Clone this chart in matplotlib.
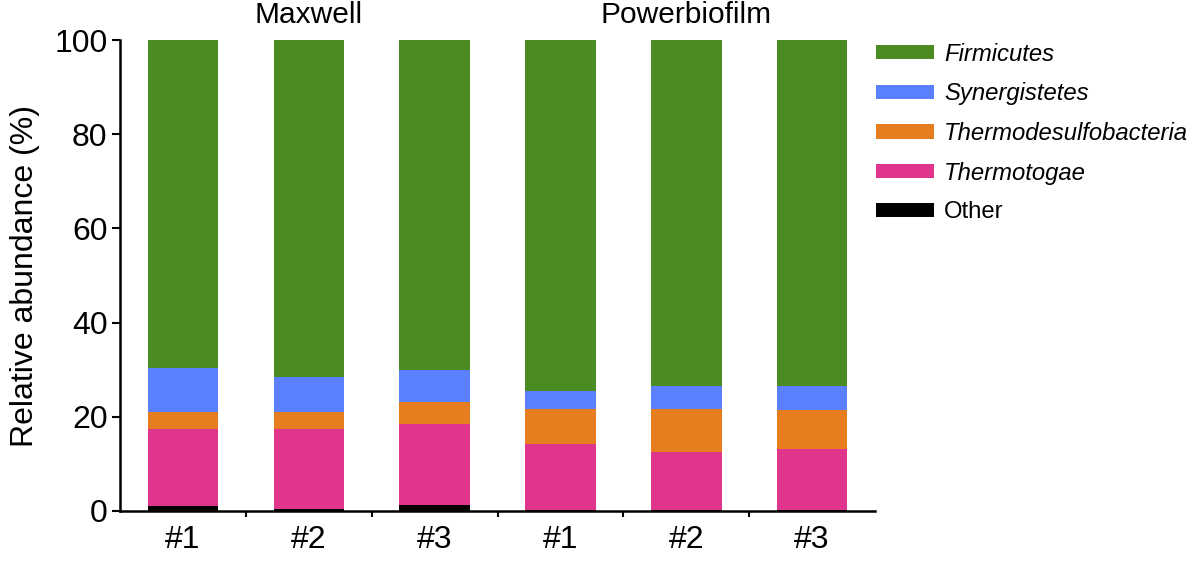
import matplotlib
matplotlib.use("Agg")
import matplotlib.pyplot as plt
import numpy as np
from matplotlib.patches import Patch

plt.rcParams['font.family'] = ['Liberation Sans', 'DejaVu Sans']

samples = ["#1", "#2", "#3", "#1", "#2", "#3"]
groups = ["Maxwell", "Powerbiofilm"]
other = [1.0, 0.5, 1.3, 0.3, 0.3, 0.3]
thermotogae = [16.4, 16.9, 17.2, 13.9, 12.2, 12.9]
thermodesulfobacteria = [3.6, 3.6, 4.6, 7.5, 9.2, 8.2]
synergistetes = [9.4, 7.5, 6.9, 3.8, 4.8, 5.1]
firmicutes = [69.6, 71.5, 70.0, 74.5, 73.5, 73.5]

series = [
    ("Other", other, "#000000", False),
    ("Thermotogae", thermotogae, "#e0358c", True),
    ("Thermodesulfobacteria", thermodesulfobacteria, "#e67d1f", True),
    ("Synergistetes", synergistetes, "#5b80ff", True),
    ("Firmicutes", firmicutes, "#4a8b22", True),
]

fig = plt.figure(figsize=(12, 5.81), dpi=100)
ax = fig.add_axes([0.1, 0.1205, 0.6292, 0.8105])
x = np.arange(len(samples))
bottom = np.zeros(len(samples))
for name, vals, col, it in series:
    ax.bar(x, vals, width=0.56, bottom=bottom, color=col, edgecolor='none', zorder=2)
    bottom += np.array(vals)

ax.set_xlim(-0.5, len(samples) - 0.5)
ax.set_ylim(0, 100)
ax.set_yticks([0, 20, 40, 60, 80, 100])
ax.tick_params(axis='y', labelsize=23, length=6, width=1.5, direction='out', pad=3)
ax.set_xticks(x)
ax.set_xticklabels(samples, fontsize=23)
ax.tick_params(axis='x', which='major', length=0, pad=10)
ax.set_xticks(np.arange(0.5, len(samples) - 0.5, 1.0), minor=True)
ax.tick_params(axis='x', which='minor', length=4, width=1.5, direction='out')
for s in ['top', 'right']:
    ax.spines[s].set_visible(False)
for s in ['left', 'bottom']:
    ax.spines[s].set_linewidth(1.8)
ax.set_ylabel("Relative abundance (%)", fontsize=23, labelpad=10)

for gi, g in enumerate(groups):
    ax.text(gi * 3 + 1, 102.3, g, ha='center', va='bottom', fontsize=21.5)

handles = []
labels = []
for name, vals, col, it in reversed(series):
    handles.append(Patch(facecolor=col, edgecolor='none'))
    labels.append(name)
leg = ax.legend(handles, labels, loc='upper left', bbox_to_anchor=(0.988, 1.015),
                frameon=False, fontsize=17.2, handlelength=2.45, handleheight=0.55,
                labelspacing=0.70, handletextpad=0.42, borderaxespad=0)
for t, (name, vals, col, it) in zip(leg.get_texts(), reversed(series)):
    if it:
        t.set_style('italic')

fig.savefig("out.png", dpi=100)
